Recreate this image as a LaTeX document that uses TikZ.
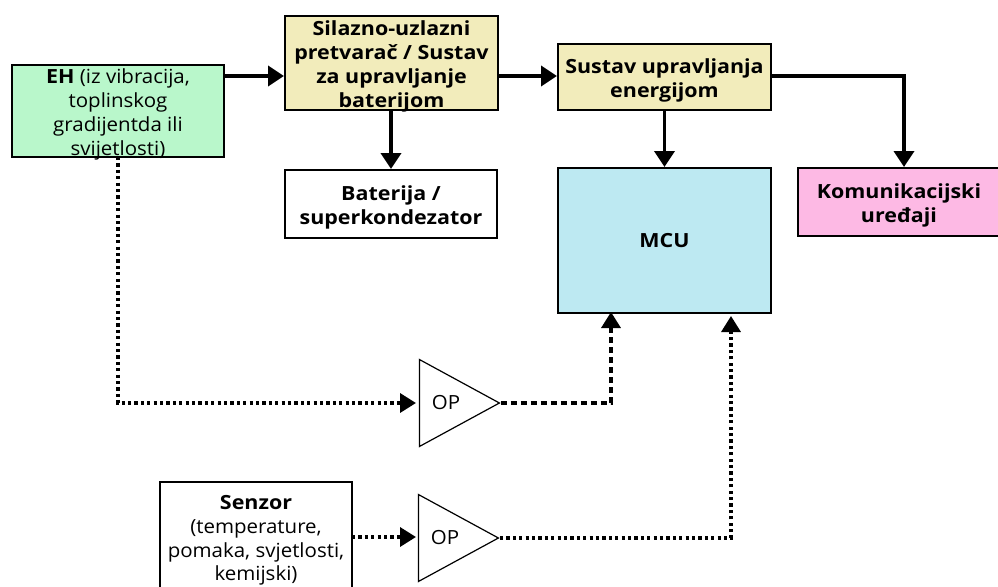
\documentclass[tikz,border=0pt]{standalone}
\usepackage{fontspec}
\setmainfont{Open Sans}[BoldFeatures={FakeStretch=1.1},UprightFeatures={FakeStretch=1.05}]
\usetikzlibrary{arrows.meta,shapes.geometric,calc}
\definecolor{ehgreen}{HTML}{B9F7CB}
\definecolor{sand}{HTML}{F2ECBB}
\definecolor{mcublue}{HTML}{BDE9F2}
\definecolor{kompink}{HTML}{FDB9E4}
\tikzset{
  x=1pt,y=-1pt,
  every node/.style={font=\fontsize{19.5}{23.8}\selectfont,align=center,inner sep=0pt},
  every label/.style={yshift=-3.5pt,label distance=0pt},
  blockbox/.style={draw=black,line width=1.6pt,text=black},
  amp/.style={draw=black,line width=1.2pt,fill=white,isosceles triangle,isosceles triangle stretches,shape border rotate=0,minimum width=87pt,minimum height=80pt,inner sep=0pt},
  flow/.style={line width=3.6pt,-{Triangle[length=16pt,width=20pt]}},
  dotflow/.style={line width=3.4pt,dash pattern=on 3.2pt off 3.2pt,-{Triangle[length=16pt,width=19pt]}},
  dashflow/.style={line width=3.4pt,dash pattern=on 6pt off 4pt,-{Triangle[length=16pt,width=19pt]}}
}
\begin{document}
\begin{tikzpicture}
\useasboundingbox (0,0) rectangle (998,586);
\fill[white] (0,0) rectangle (998,586);
\clip (0,0) rectangle (998,586);
\node[blockbox,fill=ehgreen,minimum width=212pt,minimum height=92pt,label={center:{\textbf{EH} (iz vibracija,\\toplinskog\\gradijentda ili\\svijetlosti)}}] (eh) at (118,111) {};
\node[blockbox,fill=sand,minimum width=213pt,minimum height=94pt,label={center:{\textbf{Silazno-uzlazni}\\\textbf{pretvarač / Sustav}\\\textbf{za upravljanje}\\\textbf{baterijom}}}] (buck) at (391.5,63) {};
\node[blockbox,fill=white,minimum width=212pt,minimum height=68pt,label={center:{\textbf{Baterija /}\\\textbf{superkondezator}}}] (bat) at (391,204) {};
\node[blockbox,fill=sand,minimum width=213pt,minimum height=66pt,label={center:{\textbf{Sustav upravljanja}\\\textbf{energijom}}}] (ems) at (664.5,77) {};
\node[blockbox,fill=mcublue,minimum width=213pt,minimum height=145pt] (mcu) at (664.5,240.5) {\textbf{MCU}};
\node[blockbox,fill=kompink,minimum width=202pt,minimum height=68pt,label={center:{\textbf{Komunikacijski}\\\textbf{uređaji}}}] (kom) at (899,202) {};
\node[blockbox,fill=white,minimum width=192pt,minimum height=110pt,label={center:{\textbf{Senzor}\\(temperature,\\pomaka, svjetlosti,\\kemijski)}}] (sen) at (256,537) {};
\node[amp] (opa) at (446,403) {OP};
\node[amp] (opb) at (445,538) {OP};
\coordinate (mcua) at (611,312);
\coordinate (mcub) at (731,316);
\coordinate (ehdrop) at (118,157);
\coordinate (komin) at (904,167);
\coordinate (buckin) at (284,76);
\coordinate (ehout) at (224,76);
\coordinate (buckout) at (498,76);
\coordinate (emsin) at (557,76);
\coordinate (emsout) at (771,76);
\coordinate (buckdown) at (391,110);
\coordinate (batin) at (391,169);
\coordinate (emsdown) at (664.5,110);
\coordinate (mcuin) at (664.5,167);
\coordinate (opain) at (416,403);
\coordinate (opbin) at (416,537);
\coordinate (senout) at (352,537);
\draw[flow] (ehout) -- (buckin);
\draw[flow] (buckout) -- (emsin);
\draw[flow] (buckdown) -- (batin);
\draw[flow] (emsdown) -- (mcuin);
\draw[flow] (emsout) -| (komin);
\draw[dotflow] (ehdrop) |- (opain);
\draw[dashflow] (opa.east) -| (mcua);
\draw[dotflow] (senout) -- (opbin);
\draw[dotflow] (opb.east) -| (mcub);
\end{tikzpicture}
\end{document}
